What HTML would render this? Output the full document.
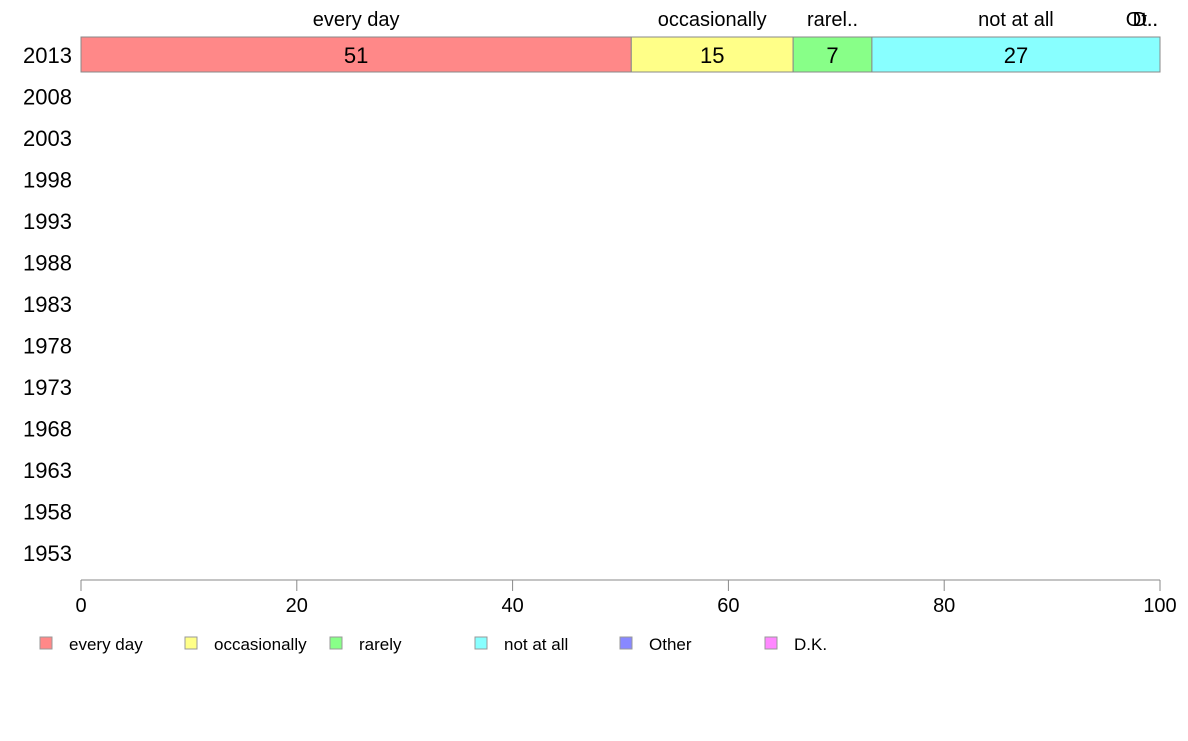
<!DOCTYPE html>
<html><head><meta charset="utf-8"><style>
body{margin:0;background:#fff;width:1188px;height:736px;overflow:hidden}
svg text{font-family:"Liberation Sans",Arial,sans-serif}
</style></head><body>
<svg id="chart" width="1188" height="736" xmlns="http://www.w3.org/2000/svg"></svg>
<script>
const years = ["2013","2008","2003","1998","1993","1988","1983","1978","1973","1968","1963","1958","1953"];
const categories = ["every day","occasionally","rarely","not at all","Other","D.K."];
const shortLabels = ["every day","occasionally","rarel..","not at all","Ot..","D.."];
const values2013 = [51,15,7.3,26.7,0,0];
const printed = ["51","15","7","27","",""];
const colors = ["#ff8888","#ffff88","#88ff88","#88ffff","#8888ff","#ff88ff"];
const xTicks = [0,20,40,60,80,100];

const svg = document.getElementById('chart');
const NS = 'http://www.w3.org/2000/svg';
const x0 = 81, x1 = 1160;
const xs = v => x0 + (x1 - x0) * v / 100;
const rowY = i => 55 + i * 41.5;
function mk(tag, attrs, txt){const e=document.createElementNS(NS,tag);for(const k in attrs)e.setAttribute(k,attrs[k]);if(txt!==undefined)e.textContent=txt;svg.appendChild(e);return e;}

years.forEach((y,i)=>{
  const t = mk('text',{x:72,y:rowY(i)+8,'text-anchor':'end','font-size':22,fill:'#000'},y);
  
  
});

let acc = 0;
values2013.forEach((v,i)=>{
  const xa = xs(acc), xb = xs(acc+v);
  const r = mk('rect',{x:xa,y:37,width:Math.max(xb-xa,0),height:35,fill:colors[i],stroke:'#888','stroke-width':1});
  
  
  const cx = (xa+xb)/2;
  const lab = mk('text',{x:Math.min(cx,1158),y:26,'text-anchor':v<1?'end':'middle','font-size':20,fill:'#000'},shortLabels[i]);
  
  
  if(printed[i]){
    const vt = mk('text',{x:cx,y:63,'text-anchor':'middle','font-size':22,fill:'#000'},printed[i]);
    
    
  }
  acc += v;
});

const ax = mk('line',{x1:x0,y1:580,x2:x1,y2:580,stroke:'#888','stroke-width':1});


xTicks.forEach(t=>{
  const tl = mk('line',{x1:xs(t),y1:580,x2:xs(t),y2:591,stroke:'#888','stroke-width':1});
  
  
  const tt = mk('text',{x:xs(t),y:612,'text-anchor':'middle','font-size':20,fill:'#000'},String(t));
  
  
});

categories.forEach((c,i)=>{
  const lx = 40 + i*145;
  const g = document.createElementNS(NS,'g');
  
  
  svg.appendChild(g);
  const r = document.createElementNS(NS,'rect');
  r.setAttribute('x',lx);r.setAttribute('y',637);r.setAttribute('width',12);r.setAttribute('height',12);
  r.setAttribute('fill',colors[i]);r.setAttribute('stroke','#999');
  g.appendChild(r);
  const t = document.createElementNS(NS,'text');
  t.setAttribute('x',lx+29);t.setAttribute('y',650);t.setAttribute('font-size',17);
  t.textContent = c;
  g.appendChild(t);
});
</script>
</body></html>
